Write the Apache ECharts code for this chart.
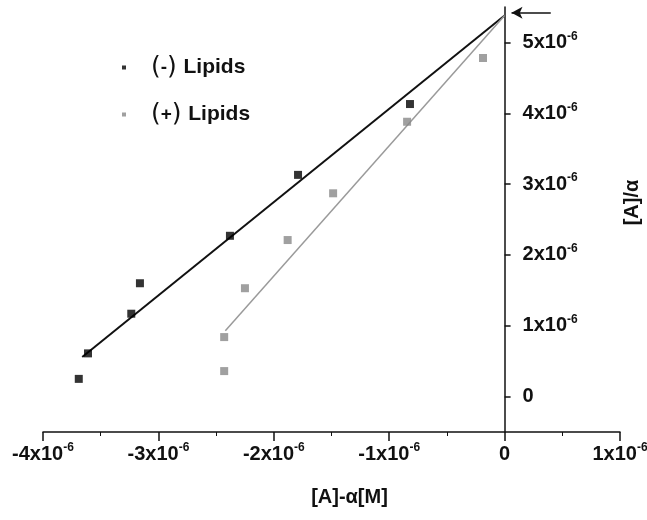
<!DOCTYPE html>
<html>
<head>
<meta charset="utf-8">
<script src="https://cdn.jsdelivr.net/npm/echarts@6/dist/echarts.min.js"></script>
<style>html,body{margin:0;padding:0;background:#fff;}#c{width:647px;height:520px;}</style>
</head>
<body>
<div id="c"></div>
<script>
// Data (units: M)
const minusLipidsX = [-3.69e-6, -3.61e-6, -3.235e-6, -3.16e-6, -2.38e-6, -1.79e-6, -0.82e-6];
const minusLipidsY = [0.25e-6, 0.61e-6, 1.17e-6, 1.60e-6, 2.27e-6, 3.13e-6, 4.13e-6];
const plusLipidsX = [-2.43e-6, -2.43e-6, -2.25e-6, -1.88e-6, -1.486e-6, -0.845e-6, -0.187e-6];
const plusLipidsY = [0.36e-6, 0.84e-6, 1.53e-6, 2.21e-6, 2.87e-6, 3.88e-6, 4.78e-6];
const minusFitX = [-3.66e-6, 0];
const minusFitY = [0.56e-6, 5.38e-6];
const plusFitX = [-2.42e-6, 0];
const plusFitY = [0.93e-6, 5.38e-6];
const arrowX = [0.4e-6, 0.06e-6];
const arrowY = [5.42e-6, 5.42e-6];
const yTickValues = [0, 1e-6, 2e-6, 3e-6, 4e-6, 5e-6];
const seriesNames = ['(-) Lipids', '(+) Lipids'];

const zip = (xs, ys) => xs.map((x, i) => [x, ys[i]]);
const FONT = 'Liberation Sans';
const sciRich = {
  n: {fontFamily: FONT, fontWeight: 'bold', fontSize: 20, color: '#111', lineHeight: 24},
  s: {fontFamily: FONT, fontWeight: 'bold', fontSize: 12, color: '#111', lineHeight: 13, verticalAlign: 'top'}
};
function sciLabel(v) {
  const k = Math.round(v / 1e-6);
  if (k === 0) return '{n|0}';
  return '{n|' + k + 'x10}{s|-6}';
}

const GRID_LEFT = 43, GRID_RIGHT = 27, W = 647;
const plotW = W - GRID_LEFT - GRID_RIGHT;
// place the y axis where x = 0 on the x scale (x range -4e-6 .. 1e-6)
const yAxisOffset = -plotW * (1 / 5);

const chart = echarts.init(document.getElementById('c'), null, {renderer: 'canvas'});
chart.setOption({
  animation: false,
  backgroundColor: '#fff',
  grid: {left: GRID_LEFT, right: GRID_RIGHT, top: 7, bottom: 88, containLabel: false, outerBoundsMode: 'none'},
  legend: {
    orient: 'vertical', left: 117, top: 50, itemGap: 22,
    itemWidth: 4, itemHeight: 4, icon: 'rect',
    data: seriesNames,
    formatter: function (name) {
      const sign = name.charAt(1);
      return '{p|(}{m|' + sign + '}{p|)}  {t|Lipids}';
    },
    textStyle: {
      padding: [0, 0, 0, 20],
      rich: {
        p: {fontFamily: 'DejaVu Sans', fontSize: 25, fontWeight: 'normal', color: '#111', lineHeight: 28},
        m: {fontFamily: FONT, fontSize: 19, fontWeight: 'bold', color: '#111', lineHeight: 28},
        t: {fontFamily: FONT, fontSize: 21, fontWeight: 'bold', color: '#111', lineHeight: 28}
      }
    }
  },
  xAxis: {
    type: 'value', min: -4e-6, max: 1e-6, interval: 1e-6,
    axisLine: {onZero: false, lineStyle: {color: '#111', width: 1.5}},
    axisTick: {show: true, inside: false, length: 9, lineStyle: {color: '#111', width: 1.5}},
    minorTick: {show: true, splitNumber: 2, length: 4, lineStyle: {color: '#111', width: 1}},
    splitLine: {show: false},
    axisLabel: {margin: 10, formatter: sciLabel, rich: sciRich},
    name: '[A]-\u03b1[M]', nameLocation: 'middle', nameGap: 55,
    nameTextStyle: {fontFamily: FONT, fontWeight: 'bold', fontSize: 20, color: '#111', padding: [0, 0, 0, 36]}
  },
  yAxis: {
    type: 'value', min: -0.5e-6, max: 5.5e-6, position: 'right', offset: yAxisOffset,
    axisLine: {show: true, onZero: false, lineStyle: {color: '#111', width: 1.5}},
    axisTick: {show: true, inside: false, length: 6, customValues: yTickValues, lineStyle: {color: '#111', width: 1.5}},
    splitLine: {show: false},
    axisLabel: {margin: 18, customValues: yTickValues, formatter: sciLabel, rich: sciRich},
    name: '[A]/\u03b1', nameLocation: 'middle', nameGap: 118, nameRotate: 90,
    nameTextStyle: {fontFamily: FONT, fontWeight: 'bold', fontSize: 20, color: '#111', padding: [0, 0, 0, 34]}
  },
  series: [
    {
      type: 'line', data: zip(minusFitX, minusFitY), symbol: 'none', silent: true,
      lineStyle: {color: '#111', width: 2}, z: 2,
      markLine: {
        silent: true, symbol: ['none', 'arrow'], symbolSize: [9, 11],
        lineStyle: {color: '#111', width: 1.5, type: 'solid'}, label: {show: false},
        data: [[{coord: [arrowX[0], arrowY[0]]}, {coord: [arrowX[1], arrowY[1]]}]]
      }
    },
    {
      type: 'line', data: zip(plusFitX, plusFitY), symbol: 'none', silent: true,
      lineStyle: {color: '#9a9a9a', width: 1.5}, z: 2
    },
    {
      name: seriesNames[0], type: 'scatter', data: zip(minusLipidsX, minusLipidsY),
      symbol: 'rect', symbolSize: 8, itemStyle: {color: '#000'}, z: 3
    },
    {
      name: seriesNames[1], type: 'scatter', data: zip(plusLipidsX, plusLipidsY),
      symbol: 'rect', symbolSize: 8, itemStyle: {color: '#888'}, z: 3
    }
  ]
});
</script>
</body>
</html>
